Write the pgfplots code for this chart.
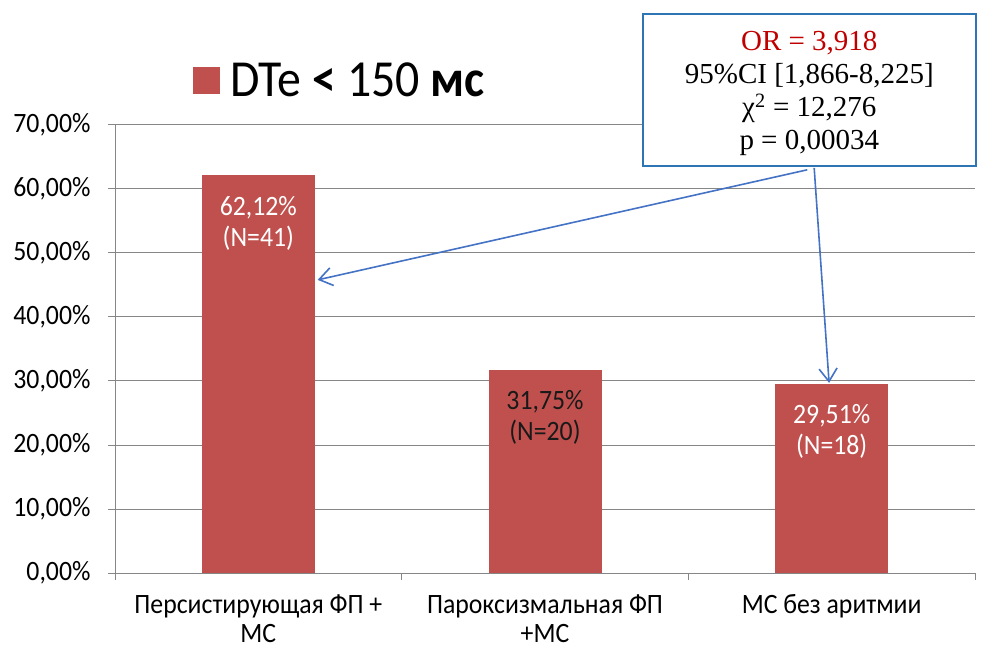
\documentclass[border=0pt]{standalone}
\usepackage{pgfplots}
\pgfplotsset{compat=1.18}
\usetikzlibrary{arrows.meta}
\usepackage{fontspec}
\setmainfont{Carlito}[FakeStretch=0.92]
\newfontfamily\tnr{Liberation Serif}
\definecolor{barred}{RGB}{192,80,77}
\definecolor{gridgray}{RGB}{134,134,134}
\definecolor{boxblue}{RGB}{46,117,182}
\definecolor{arrowblue}{RGB}{68,114,196}
\definecolor{orred}{RGB}{192,0,0}
\begin{document}
\begin{tikzpicture}
\path[use as bounding box] (0,0) rectangle (990pt,648pt);
\begin{axis}[
 at={(115pt,75pt)}, anchor=south west,
 scale only axis, width=860pt, height=448pt,
 xmin=-0.5, xmax=2.5, ymin=0, ymax=70,
 axis lines*=left,
 axis line style={gridgray, line width=1pt},
 ytick={0,10,...,70},
 ymajorgrids, grid style={gridgray, line width=1pt},
 yticklabel={\pgfmathprintnumber[fixed,fixed zerofill,precision=2,use comma]{\tick}\%},
 /pgf/number format/assume math mode=true,
 tick style={gridgray, line width=1pt},
 tick align=outside, major tick length=7pt,
 xtick={-0.5,0.5,1.5,2.5}, xticklabels={},
 extra x ticks={0,1,2},
 extra x tick labels={Персистирующая ФП +\\МС, Пароксизмальная ФП\\+МС, МС без аритмии},
 extra x tick style={major tick length=0pt, xticklabel style={align=center, anchor=north, yshift=-18pt}},
 ticklabel style={font=\fontsize{28}{29}\selectfont, text=black},
 yticklabel style={xshift=-14pt},
 ybar, bar width=113pt, bar shift=0pt,
 clip=false,
 legend style={at={(0.0905,1.10)}, anchor=west, draw=none, fill=none, inner sep=0pt, font=\fontsize{52}{60}\selectfont},
 legend image code/.code={\fill[barred] (0pt,-13.5pt) rectangle (27pt,13.5pt);},
]
\addplot[fill=barred, draw=none, nodes near coords={62,12\%\\(N=41)}, nodes near coords style={text=white, anchor=north, yshift=-17pt, align=center, font=\fontsize{28}{31}\selectfont}] coordinates {(0,62.12)};
\addplot[fill=barred, draw=none, nodes near coords={31,75\%\\(N=20)}, nodes near coords style={text=black!90, anchor=north, yshift=-17pt, align=center, font=\fontsize{28}{31}\selectfont}] coordinates {(1,31.75)};
\addplot[fill=barred, draw=none, nodes near coords={29,51\%\\(N=18)}, nodes near coords style={text=white, anchor=north, yshift=-17pt, align=center, font=\fontsize{28}{31}\selectfont}] coordinates {(2,29.51)};
\legend{\hspace{8pt}DTe {\bfseries <} 150 {\bfseries мс}}
\draw[arrowblue, line width=1.6pt, -{Straight Barb[length=13pt, width=18pt]}] (axis cs:1.915,63) -- (axis cs:0.207,45.8);
\draw[arrowblue, line width=1.6pt, -{Straight Barb[length=13pt, width=18pt]}] (axis cs:1.939,63.3) -- (axis cs:1.991,29.7);
\node[fill=white, draw=boxblue, line width=1.5pt, minimum width=333pt, minimum height=152pt, inner sep=0pt] at (axis cs:1.922,75.5) {};
\node[inner sep=0pt, align=center, font=\tnr\fontsize{29}{33}\selectfont, yshift=-4pt] at (axis cs:1.922,75.5) {{\color{orred}OR = 3,918}\\95\%CI [1,866-8,225]\\χ\textsuperscript{2} = 12,276\\p = 0,00034};
\end{axis}
\end{tikzpicture}
\end{document}
